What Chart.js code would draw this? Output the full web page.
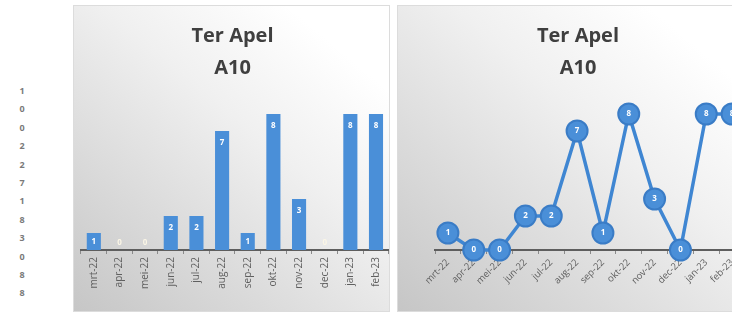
<!DOCTYPE html>
<html>
<head>
<meta charset="utf-8">
<script src="https://cdn.jsdelivr.net/npm/chart.js@4/dist/chart.umd.min.js"></script>
<style>
  html, body { margin: 0; padding: 0; background: #fff; width: 732px; height: 313px; overflow: hidden; position: relative; }
  .panel { position: absolute; top: 5px; height: 307px; border: 1px solid #dcdcdc; box-sizing: border-box;
           background: linear-gradient(40deg, #c6c6c6 0%, #dadada 28%, #f0f0f0 58%, #ffffff 85%); }
  #digits { position: absolute; left: 16px; top: 82px; width: 12px; text-align: center;
            font: bold 9px "Open Sans", sans-serif; color: #7a7a7a; line-height: 18.4px; }
</style>
</head>
<body>
<div id="digits"></div>
<div class="panel" style="left:73px;width:317px;"><canvas id="barChart" width="317" height="307"></canvas></div>
<div class="panel" style="left:397px;width:360px;"><canvas id="lineChart" width="360" height="307"></canvas></div>
<script>
const months = ['mrt-22','apr-22','mei-22','jun-22','jul-22','aug-22','sep-22','okt-22','nov-22','dec-22','jan-23','feb-23'];
const counts = [1, 0, 0, 2, 2, 7, 1, 8, 3, 0, 8, 8];
const titleLines = ['Ter Apel', 'A10'];

document.getElementById('digits').innerHTML = counts.map(v => '<div>' + v + '</div>').join('');

// simple value labels (no datalabels plugin available)
const valueLabels = {
    id: 'valueLabels',
    afterDatasetsDraw(chart) {
        const c = chart.ctx;
        const meta = chart.getDatasetMeta(0);
        const vals = chart.data.datasets[0].data;
        c.save();
        c.font = 'bold 8px "Open Sans", sans-serif';
        c.textAlign = 'center';
        c.textBaseline = 'middle';
        meta.data.forEach(function(el, i) {
            let y = el.y;
            c.fillStyle = '#ffffff';
            if (meta.type == 'bar') {
                if (vals[i] == 0) { y = el.base - 7; c.fillStyle = '#fbf6e6'; }
                else y = Math.min(el.y + 12, (el.y + el.base) / 2);
            }
            c.fillText(String(vals[i]), el.x, y);
        });
        c.restore();
    }
};

function hiddenY(w, pos) {
    return {
        display: true, position: pos, min: 0, max: 9,
        ticks: {display: false}, grid: {display: false}, border: {display: false},
        afterFit: function(scale) { scale.width = w; }
    };
}

function xAxis(rot, size) {
    return {
        offset: true,
        grid: {offset: true, drawOnChartArea: false, drawTicks: true, tickLength: 4, color: '#8a8a8a'},
        border: {display: true, color: '#5e5e5e', width: 2},
        ticks: {minRotation: rot, maxRotation: rot, padding: 3, color: '#5f5f5f',
                font: {family: 'Open Sans', size: size}},
        afterFit: function(scale) { scale.height = 63; }
    };
}

const titleOpts = {
    display: true, text: titleLines, color: '#3f3f3f',
    font: {family: 'Open Sans', size: 20, weight: 'bold', lineHeight: 1.6},
    padding: {top: 14, bottom: 13}
};

new Chart(document.getElementById('barChart'), {
    type: 'bar',
    data: {
        labels: months,
        datasets: [{
            data: counts,
            backgroundColor: '#4a8fd8',
            barPercentage: 0.55,
            categoryPercentage: 1
        }]
    },
    options: {
        responsive: false,
        animation: false,
        layout: {padding: 0},
        plugins: {legend: {display: false}, tooltip: {enabled: false}, title: titleOpts},
        scales: {
            x: xAxis(90, 10),
            y: hiddenY(7, 'left')
        }
    },
    plugins: [valueLabels]
});

new Chart(document.getElementById('lineChart'), {
    type: 'line',
    data: {
        labels: months,
        datasets: [{
            data: counts,
            borderColor: '#3f86d2',
            borderWidth: 3.5,
            backgroundColor: '#4a8fd8',
            pointBackgroundColor: '#4a8fd8',
            pointBorderColor: '#3a7cc6',
            pointBorderWidth: 2,
            pointRadius: 10.5,
            tension: 0,
            clip: false
        }]
    },
    options: {
        responsive: false,
        animation: false,
        layout: {padding: 0},
        plugins: {legend: {display: false}, tooltip: {enabled: false}, title: titleOpts},
        scales: {
            x: xAxis(45, 9.5),
            y: hiddenY(37, 'left'),
            y2: hiddenY(13, 'right')
        }
    },
    plugins: [valueLabels]
});
</script>
</body>
</html>
